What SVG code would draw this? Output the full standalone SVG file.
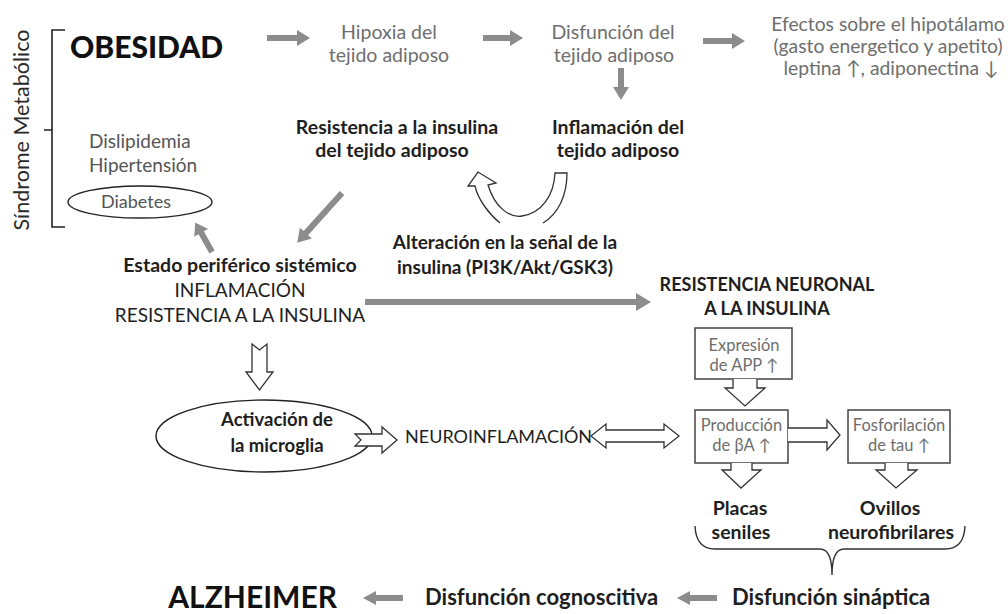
<svg xmlns="http://www.w3.org/2000/svg" width="1008" height="614" viewBox="0 0 1008 614">
<style>
text{font-family:Lato,"Liberation Sans",sans-serif}
.g{fill:#6e6e6e;font-size:19.5px}
.b{fill:#1e1e1e;font-size:19.5px;font-weight:bold}
.k{fill:#1e1e1e;font-size:19px}
.s{fill:#6e6e6e;font-size:16.5px}
.m{text-anchor:middle}
.ga{fill:#8c8c8c}
.ho{fill:#fff;stroke:#333;stroke-width:1.3;stroke-linejoin:miter}
.ln{fill:none;stroke:#333;stroke-width:1.4}
.bx{fill:#fff;stroke:#444;stroke-width:1.5}
</style>
<rect width="1008" height="614" fill="#fff"/>

<g id="sindrome">
<text transform="translate(29,130) rotate(-90)" class="m" style="font-size:21.5px;fill:#2a2a2a">Síndrome Metabólico</text>
<path class="ln" d="M65,30 H52 V227 H65 M44,130 H52" style="stroke:#222;stroke-width:1.6"/>
</g>

<g id="obesidad"><text x="70" y="58" style="font-size:30px;font-weight:900;fill:#111">OBESIDAD</text></g>

<g id="comorbilidades">
<text x="89" y="148" class="g" style="font-size:19px;fill:#555">Dislipidemia</text>
<text x="89" y="172" class="g" style="font-size:19px;fill:#555">Hipertensión</text>
</g>
<g id="diabetes">
<ellipse cx="140" cy="202" rx="72" ry="16" class="ln" style="stroke:#222"/>
<text x="136" y="208" class="g m" style="font-size:18px;fill:#555">Diabetes</text>
</g>

<g id="hipoxia"><text x="389" y="39" class="g m">Hipoxia del</text><text x="389" y="62" class="g m">tejido adiposo</text></g>
<g id="disfuncion"><text x="613" y="39" class="g m">Disfunción del</text><text x="614" y="62" class="g m">tejido adiposo</text></g>
<g id="efectos">
<text x="888" y="31" class="g m" style="font-size:19.3px">Efectos sobre el hipotálamo</text>
<text x="888" y="53" class="g m" style="font-size:19.3px">(gasto energetico y apetito)</text>
<text x="891" y="75" class="g m" style="font-size:19.3px">leptina ↑, adiponectina ↓</text>
</g>

<g id="resistencia-adiposo"><text x="397" y="134" class="b m">Resistencia a la insulina</text><text x="392" y="157" class="b m">del tejido adiposo</text></g>
<g id="inflamacion-adiposo"><text x="618" y="134" class="b m">Inflamación del</text><text x="618" y="157" class="b m">tejido adiposo</text></g>
<g id="alteracion"><text x="505" y="249" class="b m" style="font-size:19px">Alteración en la señal de la</text><text x="505" y="274" class="b m" style="font-size:19px">insulina (PI3K/Akt/GSK3)</text></g>

<g id="estado">
<text x="240" y="272" class="b m">Estado periférico sistémico</text>
<text x="240" y="297" class="k m">INFLAMACIÓN</text>
<text x="240" y="322" class="k m">RESISTENCIA A LA INSULINA</text>
</g>

<g id="resistencia-neuronal"><text x="767" y="291" class="b m" style="font-size:18px">RESISTENCIA NEURONAL</text><text x="767" y="315" class="b m" style="font-size:18px">A LA INSULINA</text></g>

<g id="microglia">
<ellipse cx="264" cy="436" rx="108" ry="36" class="ln" style="stroke:#222"/>
<text x="277" y="426" class="b m" style="font-size:18.5px">Activación de</text>
<text x="277" y="452" class="b m" style="font-size:18.5px">la  microglia</text>
</g>
<g id="neuroinflamacion"><text x="405" y="443" class="k" style="font-size:18px">NEUROINFLAMACIÓN</text></g>

<g id="expresion"><rect x="695" y="328" width="97" height="51" class="bx"/><text x="744" y="351" class="s m">Expresión</text><text x="744" y="371" class="s m">de APP ↑</text></g>
<g id="produccion"><rect x="695" y="410" width="93" height="53" class="bx"/><text x="741.5" y="431" class="s m">Producción</text><text x="741.5" y="451" class="s m">de βA ↑</text></g>
<g id="fosforilacion"><rect x="848" y="410" width="102" height="53" class="bx"/><text x="899" y="431" class="s m">Fosforilación</text><text x="899" y="451" class="s m">de tau ↑</text></g>

<g id="placas"><text x="740" y="515" class="b m">Placas</text><text x="741" y="539" class="b m">seniles</text></g>
<g id="ovillos"><text x="890" y="515" class="b m">Ovillos</text><text x="891" y="539" class="b m">neurofibrilares</text></g>

<g id="alzheimer"><text x="337" y="608" text-anchor="end" style="font-size:30px;font-weight:bold;fill:#111">ALZHEIMER</text></g>
<g id="disfuncion-cognoscitiva"><text x="425" y="605" class="b" style="font-size:22px">Disfunción cognoscitiva</text></g>
<g id="disfuncion-sinaptica"><text x="732" y="605" class="b" style="font-size:22px">Disfunción sináptica</text></g>

<g id="connectors">
<path class="ga" transform="translate(267,38)" d="M0,-3H30V-8L43,0L30,8V3H0Z"/>
<path class="ga" transform="translate(483,38)" d="M0,-3H27V-8L40,0L27,8V3H0Z"/>
<path class="ga" transform="translate(703,41)" d="M0,-3H29V-8L42,0L29,8V3H0Z"/>
<path class="ga" transform="translate(621,68) rotate(90)" d="M0,-3H19V-8L32,0L19,8V3H0Z"/>
<path class="ga" transform="translate(342,193) rotate(132)" d="M0,-3H54V-8L67,0L54,8V3H0Z"/>
<path class="ga" transform="translate(212,252) rotate(-119.5)" d="M0,-3H22V-8L34,0L22,8V3H0Z"/>
<path class="ga" transform="translate(365,302)" d="M0,-3H271V-9L286,0L271,9V3H0Z"/>
<path class="ga" transform="translate(403,598) rotate(180)" d="M0,-3H27V-7L40,0L27,7V3H0Z"/>
<path class="ga" transform="translate(717,598) rotate(180)" d="M0,-3H27V-7L40,0L27,7V3H0Z"/>

<path class="ho" d="M500,223 C490,215 478,200 475,186 L468,186 L478,172 L496,183 L488,185 C495,208 510,218 522,216 C542,213 554,195 555,173 L567,173 C567,196 558,214 543,223" style="fill:none"/>

<path class="ho" d="M252,344 L259.5,350 L267,344 V372 H273 L259.5,390 L246,372 H252 Z"/>
<path class="ho" d="M355,434 H382 V427 L397,440 L382,453 V446 H355 L361,440 Z"/>
<path class="ho" d="M591,436 L606,424 V430 H664 V424 L679,436 L664,448 V442 H606 V448 Z"/>
<path class="ho" d="M733,379 V388 H725 L745,406 L765,388 H757 V379"/>
<path class="ho" d="M788,428 H827 V420 L840,435 L827,450 V442 H788"/>
<path class="ho" d="M731,463 V470 H722 L741,488 L761,470 H752 V463"/>
<path class="ho" d="M885,463 V470 H876 L896,488 L917,470 H908 V463"/>

<path class="ln" d="M695,526 Q696,549 715,549 H820 Q832,549 832,575 Q832,549 844,549 H945 Q964,549 965,526"/>
</g>
</svg>
